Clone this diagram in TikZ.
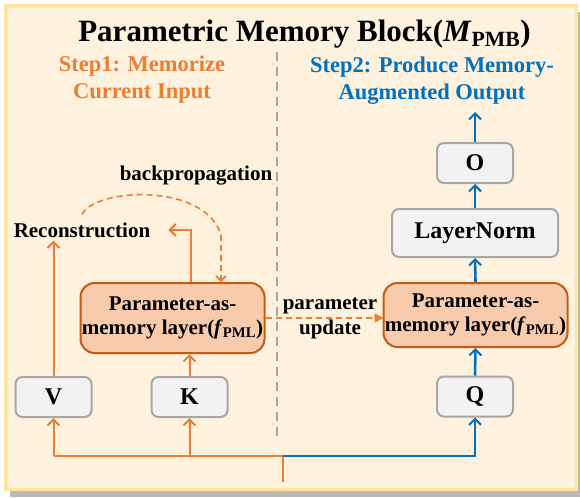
\documentclass[tikz,border=0pt]{standalone}
\usepackage{fontspec}
\setmainfont{Liberation Serif}
\usetikzlibrary{arrows.meta}
\definecolor{oc}{HTML}{ED7D31}
\definecolor{odark}{HTML}{C55A11}
\definecolor{pmlfill}{HTML}{F8CBAD}
\definecolor{bc}{HTML}{0070C0}
\definecolor{gfill}{HTML}{F2F2F2}
\definecolor{gdraw}{HTML}{A6A6A6}
\definecolor{cream}{HTML}{FEF2DE}
\definecolor{fyellow}{HTML}{FFE699}
\tikzset{
  gbox/.style={draw=gdraw, fill=gfill, line width=2pt, rounded corners=7pt, minimum width=76pt, minimum height=40pt, inner sep=0pt, font=\fontsize{24}{26}\selectfont\bfseries},
  pml/.style={draw=odark, fill=pmlfill, line width=2pt, rounded corners=14pt, minimum width=184pt, inner sep=0pt, align=center, font=\fontsize{21}{24}\selectfont\bfseries},
  lbl/.style={inner sep=2pt, align=center, font=\fontsize{21}{25}\selectfont\bfseries},
  oline/.style={draw=oc, line width=2pt},
  bline/.style={draw=bc, line width=2.6pt},
  barb/.style={-{Straight Barb[length=6pt,width=12pt,line width=2pt]}},
  odash/.style={draw=oc, line width=1.6pt, dash pattern=on 6pt off 4pt},
}
\begin{document}
\begin{tikzpicture}[x=1pt,y=-1pt]
\useasboundingbox (0,0) rectangle (580,498);
% frame
\fill[gray!55] (10,12) rectangle (580,497);
\draw[line width=3.5pt, draw=fyellow, fill=cream] (6,6) rectangle (576.5,489.5);
% divider
\draw[gdraw, line width=1.3pt, dash pattern=on 9pt off 6pt] (277,52) -- (277,442);
% title
\node[anchor=base, inner sep=0pt, font=\fontsize{31}{33}\selectfont\bfseries] (title) at (304.5,41) {Parametric Memory Block(\textit{M}\textsubscript{PMB})};
\node[lbl, text=oc, font=\fontsize{22.5}{27}\selectfont\bfseries] (s1) at (142,80) {Step1: Memorize\\Current Input};
\node[lbl, text=bc, font=\fontsize{22.5}{27}\selectfont\bfseries] (s2) at (432,81) {Step2: Produce Memory-\\Augmented Output};
% left nodes
\node[gbox] (V) at (53.5,397) {V};
\node[gbox] (K) at (189.5,397) {K};
\node[pml, minimum height=70pt] (PMLL) at (172.5,318) {Parameter-as-\\memory layer(\textit{f}\textsubscript{PML})};
\node[lbl, inner sep=3pt] (Recon) at (82,230) {Reconstruction};
\node[lbl, anchor=base] (bp) at (196,180) {backpropagation};
% right nodes
\node[gbox] (Q) at (475,396.5) {Q};
\node[pml, minimum height=64pt] (PMLR) at (475.5,315) {Parameter-as-\\memory layer(\textit{f}\textsubscript{PML})};
\node[gbox, minimum width=166pt, minimum height=48pt] (LN) at (475,233) {LayerNorm};
\node[gbox] (O) at (475,163) {O};
\node[lbl] (pu) at (330,318) {parameter\\update};
% coordinates
\coordinate (in) at (283,482);
\coordinate (split) at (283,456);
\coordinate (out) at (475,112);
% bottom input
\draw[oline] (in) -- (split) -- (split -| V.south);
\draw[oline, barb] (split -| V.south) -- (V.south);
\draw[oline, barb] (split -| K.south) -- (K.south);
\draw[bline, barb] (split) -| (Q.south);
% left flow
\draw[oline, barb] (K.north) -- (K.north |- PMLL.south);
\draw[oline, barb] (V.north) -- (V.north |- Recon.south);
\draw[oline, barb] ([xshift=18.5pt]PMLL.north) |- ([xshift=15pt]Recon.east);
\draw[odash, -{Straight Barb[length=5pt,width=10pt,line width=1.6pt]}] ([yshift=5pt]Recon.north) .. controls (95,188) and (205,182) .. (221,235) -- ([xshift=48.5pt]PMLL.north);
\draw[odash, -{Triangle[length=9pt,width=9pt]}, shorten >=-1pt] (PMLL.east) -- (PMLL.east -| PMLR.west);
% right flow
\draw[bline, barb] (Q.north) -- (PMLR.south);
\draw[bline, barb] (PMLR.north) -- (LN.south);
\draw[bline, barb] (LN.north) -- (O.south);
\draw[bline, barb] (O.north) -- (out);
\end{tikzpicture}
\end{document}
